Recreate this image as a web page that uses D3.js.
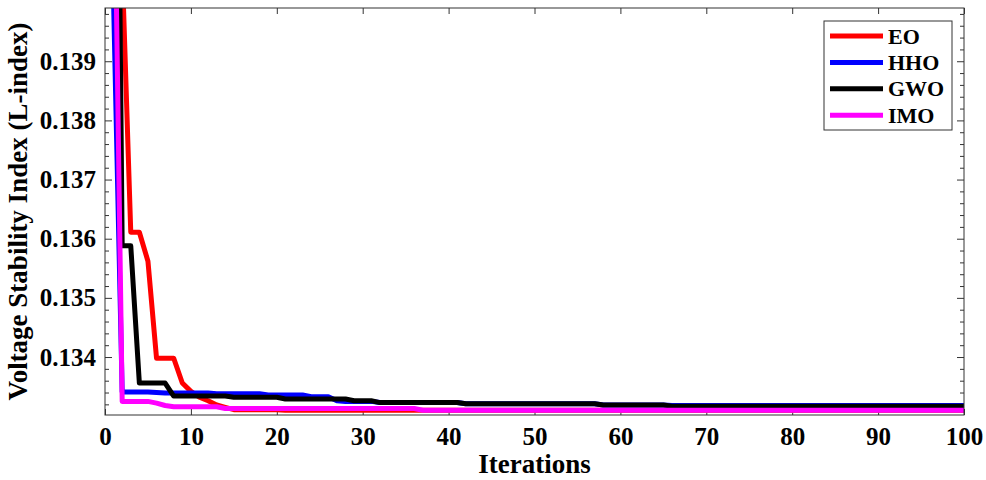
<!DOCTYPE html>
<html>
<head>
<meta charset="utf-8">
<script src="https://cdn.jsdelivr.net/npm/d3@7/dist/d3.min.js"></script>
<style>
  html, body { margin: 0; padding: 0; background: #fff; }
  svg { display: block; }
  text { font-family: "Liberation Serif", "Times New Roman", serif; font-weight: bold; fill: #000; }
</style>
</head>
<body>
<svg id="chart" width="986" height="480"></svg>
<script>
// Convergence of the L-index over 100 iterations for four optimisers
const seriesNames = ["EO", "HHO", "GWO", "IMO"];
const seriesColors = ["#ff0000", "#0000ff", "#000000", "#ff00ff"];

const iterations = d3.range(1, 101);

const eoValues = [
  0.15000, 0.14060, 0.13611, 0.13611, 0.13562, 0.13398, 0.13398, 0.13398, 0.13356, 0.13342,
  0.13332, 0.13326, 0.13319, 0.13315, 0.13311, 0.13311, 0.13311, 0.13311, 0.13311, 0.13311,
  0.13310, 0.13310, 0.13310, 0.13310, 0.13310, 0.13310, 0.13310, 0.13310, 0.13310, 0.13310,
  0.13310, 0.13310, 0.13310, 0.13310, 0.13310, 0.13310, 0.13310, 0.13310, 0.13310, 0.13310,
  0.13310, 0.13310, 0.13310, 0.13310, 0.13310, 0.13310, 0.13310, 0.13310, 0.13310, 0.13310,
  0.13310, 0.13310, 0.13310, 0.13310, 0.13310, 0.13310, 0.13310, 0.13310, 0.13310, 0.13310,
  0.13310, 0.13310, 0.13310, 0.13310, 0.13310, 0.13310, 0.13310, 0.13310, 0.13310, 0.13310,
  0.13310, 0.13310, 0.13310, 0.13310, 0.13310, 0.13310, 0.13310, 0.13310, 0.13310, 0.13310,
  0.13310, 0.13310, 0.13310, 0.13310, 0.13310, 0.13310, 0.13310, 0.13310, 0.13310, 0.13310,
  0.13310, 0.13310, 0.13310, 0.13310, 0.13310, 0.13310, 0.13310, 0.13310, 0.13310, 0.13310
];

const hhoValues = [
  0.14000, 0.13341, 0.13341, 0.13341, 0.13341, 0.13340, 0.13339, 0.13339, 0.13339, 0.13339,
  0.13339, 0.13339, 0.13338, 0.13338, 0.13338, 0.13338, 0.13338, 0.13338, 0.13336, 0.13336,
  0.13336, 0.13336, 0.13336, 0.13333, 0.13333, 0.13333, 0.13326, 0.13325, 0.13325, 0.13325,
  0.13325, 0.13323, 0.13323, 0.13323, 0.13323, 0.13323, 0.13323, 0.13323, 0.13323, 0.13323,
  0.13323, 0.13321, 0.13321, 0.13321, 0.13321, 0.13321, 0.13321, 0.13321, 0.13321, 0.13321,
  0.13321, 0.13321, 0.13321, 0.13321, 0.13321, 0.13321, 0.13321, 0.13319, 0.13319, 0.13319,
  0.13319, 0.13319, 0.13319, 0.13319, 0.13319, 0.13318, 0.13318, 0.13318, 0.13318, 0.13318,
  0.13318, 0.13318, 0.13318, 0.13318, 0.13318, 0.13318, 0.13318, 0.13318, 0.13318, 0.13318,
  0.13318, 0.13318, 0.13318, 0.13318, 0.13318, 0.13318, 0.13318, 0.13318, 0.13318, 0.13318,
  0.13318, 0.13318, 0.13318, 0.13318, 0.13318, 0.13318, 0.13318, 0.13318, 0.13318, 0.13318
];

const gwoValues = [
  0.15150, 0.13588, 0.13588, 0.13356, 0.13356, 0.13356, 0.13356, 0.13334, 0.13334, 0.13334,
  0.13334, 0.13334, 0.13334, 0.13334, 0.13332, 0.13332, 0.13332, 0.13332, 0.13332, 0.13332,
  0.13329, 0.13329, 0.13329, 0.13329, 0.13329, 0.13329, 0.13329, 0.13329, 0.13326, 0.13326,
  0.13326, 0.13323, 0.13323, 0.13323, 0.13323, 0.13323, 0.13323, 0.13323, 0.13323, 0.13323,
  0.13323, 0.13321, 0.13321, 0.13321, 0.13321, 0.13321, 0.13321, 0.13321, 0.13321, 0.13321,
  0.13321, 0.13321, 0.13321, 0.13321, 0.13321, 0.13321, 0.13321, 0.13319, 0.13319, 0.13319,
  0.13319, 0.13319, 0.13319, 0.13319, 0.13319, 0.13317, 0.13317, 0.13317, 0.13317, 0.13317,
  0.13317, 0.13317, 0.13317, 0.13317, 0.13317, 0.13317, 0.13317, 0.13317, 0.13317, 0.13317,
  0.13317, 0.13317, 0.13317, 0.13317, 0.13317, 0.13317, 0.13317, 0.13317, 0.13317, 0.13317,
  0.13317, 0.13317, 0.13317, 0.13317, 0.13317, 0.13317, 0.13317, 0.13317, 0.13317, 0.13317
];

const imoValues = [
  0.14330, 0.13325, 0.13325, 0.13325, 0.13325, 0.13322, 0.13318, 0.13316, 0.13316, 0.13316,
  0.13316, 0.13316, 0.13316, 0.13313, 0.13313, 0.13313, 0.13313, 0.13313, 0.13313, 0.13313,
  0.13313, 0.13313, 0.13313, 0.13313, 0.13313, 0.13313, 0.13313, 0.13313, 0.13313, 0.13313,
  0.13313, 0.13313, 0.13313, 0.13313, 0.13313, 0.13313, 0.13310, 0.13310, 0.13310, 0.13310,
  0.13310, 0.13310, 0.13310, 0.13310, 0.13310, 0.13310, 0.13310, 0.13310, 0.13310, 0.13310,
  0.13310, 0.13310, 0.13310, 0.13310, 0.13310, 0.13310, 0.13310, 0.13310, 0.13310, 0.13310,
  0.13310, 0.13310, 0.13310, 0.13310, 0.13310, 0.13310, 0.13310, 0.13310, 0.13310, 0.13310,
  0.13310, 0.13310, 0.13310, 0.13310, 0.13310, 0.13310, 0.13310, 0.13310, 0.13310, 0.13310,
  0.13310, 0.13310, 0.13310, 0.13310, 0.13310, 0.13310, 0.13310, 0.13310, 0.13310, 0.13310,
  0.13310, 0.13310, 0.13310, 0.13310, 0.13310, 0.13310, 0.13310, 0.13310, 0.13310, 0.13310
];

const xTickValues = [0, 10, 20, 30, 40, 50, 60, 70, 80, 90, 100];
const yTickValues = [0.134, 0.135, 0.136, 0.137, 0.138, 0.139];
const yTickLabels = ["0.134", "0.135", "0.136", "0.137", "0.138", "0.139"];
const xTitle = "Iterations";
const yTitle = "Voltage Stability Index (L-index)";

const seriesValues = [eoValues, hhoValues, gwoValues, imoValues];

// ---- layout ----
const svg = d3.select("#chart");
const W = 986, H = 480;
const plot = { left: 105, right: 964, top: 8, bottom: 415 };

svg.append("rect").attr("width", W).attr("height", H).attr("fill", "#fff");

const x = d3.scaleLinear().domain([0, 100]).range([plot.left, plot.right]);
const y = d3.scaleLinear().domain([0.13302, 0.1399]).range([plot.bottom, plot.top]);

const axisColor = "#333";
const minorY = d3.range(1332, 1400, 2).map(v => v / 10000).filter(v => yTickValues.every(t => Math.abs(t - v) > 1e-7));

function styleAxis(g) {
  g.select(".domain").remove();
  g.selectAll(".tick line").attr("stroke", axisColor).attr("stroke-width", 1);
  g.selectAll(".tick text")
    .attr("font-family", '"Liberation Serif", "Times New Roman", serif')
    .attr("font-weight", "bold")
    .attr("font-size", 25)
    .attr("fill", "#000");
}

// bottom axis, ticks pointing inward
svg.append("g")
  .attr("transform", `translate(0,${plot.bottom})`)
  .call(d3.axisBottom(x).tickValues(xTickValues).tickSize(-6).tickPadding(12).tickFormat(d3.format("d")))
  .call(styleAxis);

// top axis, ticks only
svg.append("g")
  .attr("transform", `translate(0,${plot.top})`)
  .call(d3.axisTop(x).tickValues(xTickValues).tickSize(-6).tickFormat(""))
  .call(styleAxis);

// left axis, major + minor ticks
svg.append("g")
  .attr("transform", `translate(${plot.left},0)`)
  .call(d3.axisLeft(y).tickValues(yTickValues).tickSize(-7).tickPadding(9)
    .tickFormat((d, i) => yTickLabels[i]))
  .call(styleAxis);
svg.append("g")
  .attr("transform", `translate(${plot.left},0)`)
  .call(d3.axisLeft(y).tickValues(minorY).tickSize(-4).tickFormat(""))
  .call(styleAxis);

// right axis, ticks only
svg.append("g")
  .attr("transform", `translate(${plot.right},0)`)
  .call(d3.axisRight(y).tickValues(yTickValues).tickSize(-7).tickFormat(""))
  .call(styleAxis);
svg.append("g")
  .attr("transform", `translate(${plot.right},0)`)
  .call(d3.axisRight(y).tickValues(minorY).tickSize(-4).tickFormat(""))
  .call(styleAxis);

// clip for the curves
svg.append("defs").append("clipPath").attr("id", "plotClip")
  .append("rect")
  .attr("x", plot.left).attr("y", plot.top)
  .attr("width", plot.right - plot.left).attr("height", plot.bottom - plot.top);

const line = d3.line()
  .x((d, i) => x(iterations[i]))
  .y(d => y(d));

const curves = svg.append("g").attr("clip-path", "url(#plotClip)");
seriesValues.forEach((vals, k) => {
  curves.append("path")
    .datum(vals)
    .attr("d", line)
    .attr("fill", "none")
    .attr("stroke", seriesColors[k])
    .attr("stroke-width", 5)
    .attr("stroke-linejoin", "round");
});

// axes box
svg.append("rect")
  .attr("x", plot.left).attr("y", plot.top)
  .attr("width", plot.right - plot.left).attr("height", plot.bottom - plot.top)
  .attr("fill", "none").attr("stroke", axisColor).attr("stroke-width", 1);

// axis titles
svg.append("text")
  .attr("x", (plot.left + plot.right) / 2)
  .attr("y", 473)
  .attr("text-anchor", "middle")
  .attr("font-size", 27)
  .text(xTitle);

svg.append("text")
  .attr("transform", `translate(27,${(plot.top + plot.bottom) / 2}) rotate(-90)`)
  .attr("text-anchor", "middle")
  .attr("font-size", 27)
  .text(yTitle);

// legend
const legend = svg.append("g").attr("transform", "translate(824,21)");
legend.append("rect")
  .attr("width", 128).attr("height", 109)
  .attr("fill", "#fff").attr("stroke", axisColor).attr("stroke-width", 1);
seriesNames.forEach((name, k) => {
  const cy = 15 + k * 26.4;
  legend.append("line")
    .attr("x1", 6).attr("x2", 59).attr("y1", cy).attr("y2", cy)
    .attr("stroke", seriesColors[k]).attr("stroke-width", 5);
  legend.append("text")
    .attr("x", 64).attr("y", cy + 7.5)
    .attr("font-size", 22)
    .text(name);
});
</script>
</body>
</html>
